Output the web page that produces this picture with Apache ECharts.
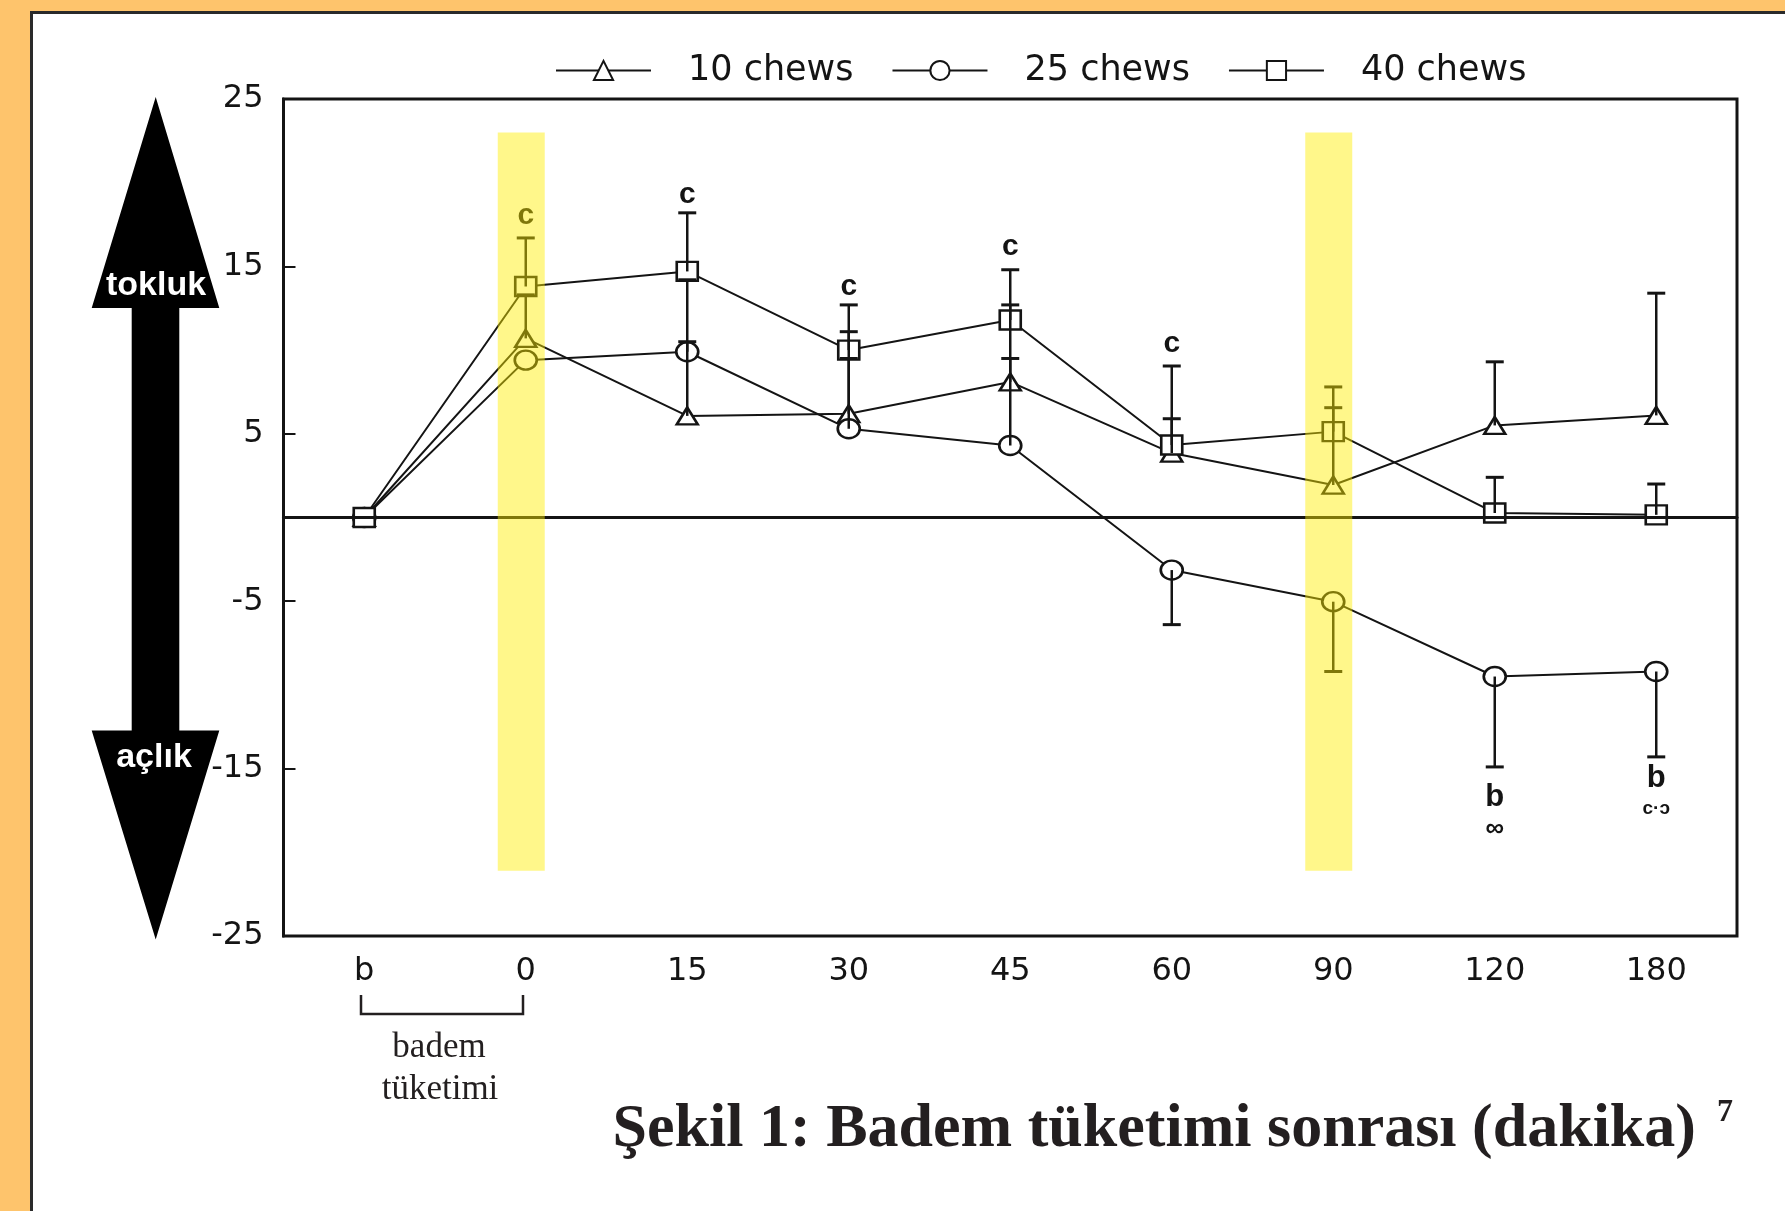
<!DOCTYPE html>
<html><head><meta charset="utf-8">
<script src="https://cdn.jsdelivr.net/npm/echarts@6/dist/echarts.min.js"></script>
<style>html,body{margin:0;padding:0;background:#fff}#c{width:1785px;height:1211px}</style>
</head><body><div id="c"></div>
<script>
// ---- data ----
const categories = ['b', '0', '15', '30', '45', '60', '90', '120', '180'];
const seriesNames = ['10 chews', '25 chews', '40 chews'];
const chews10 = [0, 10.7, 6.07, 6.2, 8.1, 3.85, 1.94, 5.5, 6.1];
const chews25 = [0, 9.4, 9.9, 5.3, 4.3, -3.14, -5.03, -9.5, -9.2];
const chews40 = [0, 13.8, 14.7, 10.0, 11.8, 4.33, 5.13, 0.27, 0.16];
// error bar end values (null = no bar)
const err10 = [null, 13.3, 10.5, 11.1, 12.7, 5.9, 6.56, 9.3, 13.4];
const err25 = [null, null, 14.2, 9.5, 9.5, -6.4, -9.2, -14.9, -14.3];
const err40 = [null, 16.7, 18.2, 12.7, 14.8, 9.05, 7.8, 2.4, 2.0];
// y axis
const yMin = -25, yMax = 25, yStep = 10;
// significance letters
const letterCats = ['0', '15', '30', '45', '60', '120', '180', '120', '180'];
const letterVals = [18.0, 19.3, 13.8, 16.2, 10.4, -16.7, -15.6, -18.6, -17.4];
const letterText = ['c', 'c', 'c', 'c', 'c', 'b', 'b', '\u221E', 'c\u00B7\u0254'];
const letterSize = [30, 30, 30, 30, 30, 31, 31, 26, 19];
// highlighted time points (yellow bands)
const bandCats = ['0', '90'];
const bandTop = 23.0, bandBottom = -21.1;

// ---- build ----
const ink = '#141414';
const errData = [];
[[chews10, err10], [chews25, err25], [chews40, err40]].forEach(function (p) {
  p[0].forEach(function (v, j) { if (p[1][j] !== null) errData.push([j, v, p[1][j]]); });
});
const letterData = letterCats.map(function (c, i) { return [categories.indexOf(c), letterVals[i]]; });
const bandData = bandCats.map(function (c) { return [categories.indexOf(c), bandTop, bandBottom]; });

function lineSeries(name, data, symbol, size) {
  return {
    name: name, type: 'line', data: data, symbol: symbol, symbolSize: size,
    lineStyle: { color: ink, width: 2 },
    itemStyle: { color: '#fff', borderColor: ink, borderWidth: 2.5 },
    z: 3
  };
}

const chart = echarts.init(document.getElementById('c'), null, { renderer: 'canvas' });
const s10 = lineSeries(seriesNames[0], chews10, 'triangle', [21, 17]);
s10.markLine = {
  silent: true, symbol: 'none', label: { show: false },
  lineStyle: { color: ink, width: 3, type: 'solid' },
  data: [{ yAxis: 0 }]
};

const option = {
  animation: false,
  backgroundColor: '#ffffff',
  legend: {
    data: seriesNames.map(function (n) { return { name: n }; }),
    left: 550, top: 48,
    itemWidth: 95, itemHeight: 24, itemGap: 38,
    textStyle: { fontFamily: 'DejaVu Sans', fontSize: 35, color: ink, padding: [0, 0, 0, 32] }
  },
  grid: {
    left: 283.5, right: 48, top: 99, bottom: 275, containLabel: false,
    show: true, borderColor: ink, borderWidth: 3, backgroundColor: 'transparent'
  },
  xAxis: {
    type: 'category', data: categories, boundaryGap: true,
    axisLine: { lineStyle: { color: ink, width: 3 } },
    axisTick: { inside: true, length: 12, alignWithLabel: true, interval: 0, lineStyle: { color: ink, width: 2 } },
    axisLabel: { interval: 0, margin: 20, fontFamily: 'DejaVu Sans', fontSize: 32, color: ink },
    splitLine: { show: false }
  },
  yAxis: {
    type: 'value', min: yMin, max: yMax, interval: yStep,
    axisLine: { show: true, lineStyle: { color: ink, width: 3 } },
    axisTick: { show: true, inside: true, length: 12, lineStyle: { color: ink, width: 2 } },
    axisLabel: { margin: 20, fontFamily: 'DejaVu Sans', fontSize: 32, color: ink },
    splitLine: { show: false }
  },
  series: [
    s10,
    lineSeries(seriesNames[1], chews25, 'circle', [22, 19]),
    lineSeries(seriesNames[2], chews40, 'rect', [21, 19]),
    {
      type: 'custom', name: 'err', data: errData, z: 4, silent: true,
      renderItem: function (params, api) {
        const x = api.value(0), v = api.value(1), e = api.value(2);
        const p0 = api.coord([x, v]), p1 = api.coord([x, e]);
        return {
          type: 'group', children: [
            { type: 'line', shape: { x1: p0[0], y1: p0[1], x2: p1[0], y2: p1[1] }, style: { stroke: ink, lineWidth: 2.5 } },
            { type: 'line', shape: { x1: p1[0] - 9, y1: p1[1], x2: p1[0] + 9, y2: p1[1] }, style: { stroke: ink, lineWidth: 3 } }
          ]
        };
      }
    },
    {
      type: 'custom', name: 'letters', data: letterData, z: 4, silent: true,
      renderItem: function (params, api) {
        const p = api.coord([api.value(0), api.value(1)]);
        const i = params.dataIndex;
        return {
          type: 'text', x: p[0], y: p[1],
          style: {
            text: letterText[i], fill: ink, align: 'center', verticalAlign: 'middle',
            font: 'bold ' + letterSize[i] + 'px "Liberation Sans", Arial, sans-serif'
          }
        };
      }
    },
    {
      type: 'custom', name: 'bands', data: bandData, z: 10, silent: true,
      renderItem: function (params, api) {
        const x = api.value(0);
        const pt = api.coord([x, api.value(1)]), pb = api.coord([x, api.value(2)]);
        return {
          type: 'rect',
          shape: { x: pt[0] - 28, y: pt[1], width: 47, height: pb[1] - pt[1] },
          style: { fill: 'rgba(255,238,0,0.46)' }
        };
      }
    }
  ],
  graphic: [
    { type: 'rect', shape: { x: 0, y: 0, width: 1785, height: 11 }, style: { fill: '#FEC46C' }, silent: true },
    { type: 'rect', shape: { x: 0, y: 0, width: 30, height: 1211 }, style: { fill: '#FEC46C' }, silent: true },
    { type: 'polyline', shape: { points: [[31.5, 1211], [31.5, 12.5], [1785, 12.5]] }, style: { stroke: '#2a2a2a', lineWidth: 3, fill: null }, silent: true },
    {
      type: 'polygon', silent: true,
      shape: { points: [[155.7, 97], [219.3, 308], [179.3, 308], [179.3, 730.4], [219.3, 730.4], [155.7, 939.4], [91.7, 730.4], [131.7, 730.4], [131.7, 308], [91.7, 308]] },
      style: { fill: '#000' }
    },
    { type: 'text', x: 156, y: 286, silent: true, style: { text: 'tokluk', fill: '#fff', align: 'center', verticalAlign: 'middle', font: 'bold 34px "Liberation Sans", Arial, sans-serif' } },
    { type: 'text', x: 154, y: 758, silent: true, style: { text: 'açlık', fill: '#fff', align: 'center', verticalAlign: 'middle', font: 'bold 34px "Liberation Sans", Arial, sans-serif' } },
    { type: 'polyline', silent: true, shape: { points: [[361, 995], [361, 1014], [523, 1014], [523, 995]] }, style: { stroke: '#231f20', lineWidth: 2.5, fill: null } },
    { type: 'text', x: 439, y: 1048, silent: true, style: { text: 'badem', fill: '#231f20', align: 'center', verticalAlign: 'middle', font: '35px "Liberation Serif", "Times New Roman", serif' } },
    { type: 'text', x: 440, y: 1090, silent: true, style: { text: 'tüketimi', fill: '#231f20', align: 'center', verticalAlign: 'middle', font: '35px "Liberation Serif", "Times New Roman", serif' } },
    { type: 'text', x: 1696, y: 1130, silent: true, style: { text: 'Şekil 1: Badem tüketimi sonrası (dakika)', fill: '#231f20', align: 'right', verticalAlign: 'middle', font: 'bold 62px "Liberation Serif", "Times New Roman", serif' } },
    { type: 'text', x: 1725, y: 1113, silent: true, style: { text: '7', fill: '#231f20', align: 'center', verticalAlign: 'middle', font: 'bold 32px "Liberation Serif", "Times New Roman", serif' } }
  ]
};
chart.setOption(option);
</script>
</body></html>
